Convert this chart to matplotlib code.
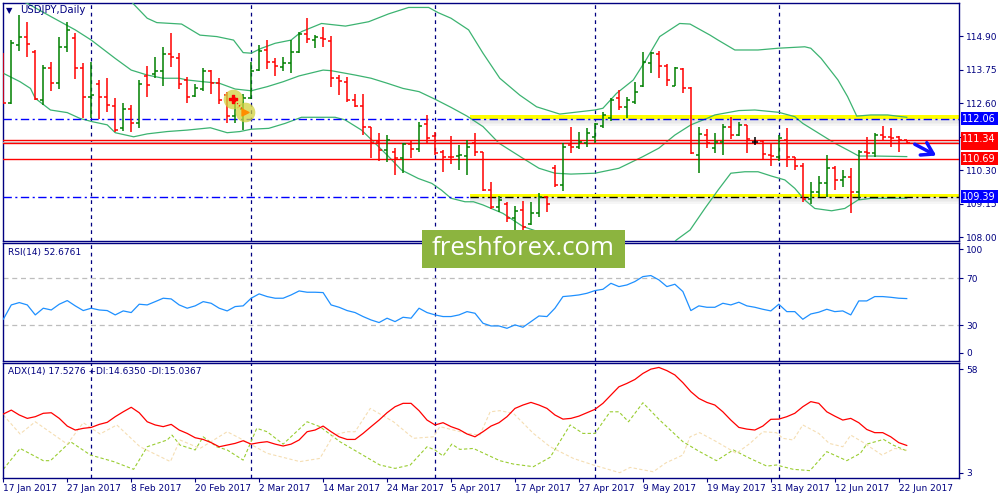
import numpy as np
import matplotlib
matplotlib.use("Agg")
import matplotlib.pyplot as plt
from matplotlib.patches import Rectangle
import matplotlib.transforms as mtransforms

# USDJPY daily bars, 17 Jan 2017 .. 23 Jun 2017
opens = [114.20, 112.60, 114.59, 114.88, 114.36, 112.70, 113.79, 113.28, 114.53, 114.82,
         113.79, 112.82, 113.24, 112.82, 112.51, 111.73, 112.38, 111.90, 113.53, 113.60,
         113.71, 114.27, 114.13, 113.39, 112.84, 113.07, 113.69, 113.30, 112.87, 112.15,
         112.40, 112.78, 113.73, 114.42, 114.02, 113.85, 113.96, 114.36, 114.96, 114.76,
         114.84, 114.74, 113.45, 113.33, 112.70, 112.50, 111.77, 111.27, 110.99, 110.93,
         110.70, 111.19, 111.01, 111.88, 111.47, 110.93, 110.76, 110.78, 110.78, 111.22,
         110.91, 109.61, 109.04, 109.13, 108.64, 108.93, 108.45, 108.81, 109.39, 110.36,
         109.79, 111.16, 111.10, 111.24, 111.45, 111.81, 112.07, 112.76, 112.45, 112.65,
         113.18, 113.96, 114.28, 113.87, 113.20, 113.76, 113.10, 110.82, 111.50, 111.04,
         111.27, 111.79, 111.50, 111.83, 111.27, 111.30, 110.82, 110.76, 111.33, 110.74,
         110.45, 109.29, 109.56, 109.84, 110.36, 109.96, 110.07, 109.56, 110.93, 110.90,
         111.50, 111.42, 111.42, 111.33]
highs = [114.31, 114.76, 115.62, 115.39, 114.42, 113.90, 114.02, 114.88, 115.39, 114.99,
         113.98, 114.02, 113.39, 113.45, 112.76, 112.59, 112.53, 113.39, 113.87, 114.19,
         114.52, 114.99, 114.31, 113.48, 113.25, 113.79, 113.73, 113.45, 112.99, 112.82,
         112.90, 114.02, 114.59, 114.76, 114.13, 114.17, 114.76, 115.05, 115.51, 114.93,
         115.22, 114.90, 113.56, 113.48, 112.90, 112.90, 111.79, 111.56, 111.50, 111.04,
         111.22, 111.33, 111.96, 112.19, 111.62, 110.99, 111.47, 111.16, 111.33, 111.56,
         110.93, 109.90, 109.41, 109.21, 109.06, 109.24, 109.21, 109.52, 109.41, 110.47,
         111.22, 111.79, 111.59, 111.73, 111.93, 112.30, 112.76, 113.05, 112.82, 113.33,
         114.36, 114.36, 114.39, 113.93, 113.85, 113.79, 113.14, 111.79, 111.70, 111.56,
         111.88, 112.11, 111.94, 111.85, 111.44, 111.33, 111.22, 111.50, 111.73, 110.76,
         110.53, 109.90, 110.09, 110.82, 110.45, 110.30, 110.36, 110.99, 111.44, 111.58,
         111.81, 111.75, 111.47, 111.33]
lows = [112.59, 112.56, 114.40, 114.19, 112.70, 112.53, 113.02, 113.07, 114.36, 113.41,
        112.07, 112.07, 112.04, 112.30, 111.62, 111.65, 111.62, 111.73, 112.82, 113.45,
        113.20, 113.85, 113.07, 112.61, 112.79, 113.02, 112.90, 112.55, 111.93, 111.90,
        111.67, 112.75, 113.70, 113.77, 113.54, 113.71, 113.62, 114.31, 114.65, 114.48,
        114.51, 113.16, 112.87, 112.65, 112.47, 111.50, 110.70, 110.62, 110.58, 110.13,
        110.19, 110.70, 110.93, 111.22, 110.82, 110.24, 110.51, 110.30, 110.13, 110.78,
        109.59, 108.95, 108.87, 108.53, 108.24, 108.13, 108.41, 108.70, 108.87, 109.71,
        109.59, 110.87, 111.02, 111.10, 111.22, 111.73, 111.99, 112.36, 112.07, 112.57,
        113.14, 113.62, 113.45, 113.18, 113.18, 112.93, 110.85, 110.21, 111.04, 110.90,
        110.82, 111.35, 111.48, 110.87, 111.16, 110.66, 110.44, 110.62, 110.41, 110.30,
        109.21, 109.13, 109.39, 109.39, 109.61, 109.73, 108.81, 109.27, 110.64, 110.73,
        111.33, 111.08, 110.93, 111.21]
closes = [112.61, 114.65, 114.88, 114.63, 112.73, 113.79, 113.28, 114.53, 115.10, 113.79,
          112.82, 112.88, 112.80, 112.53, 111.67, 112.38, 111.93, 113.25, 113.22, 113.71,
          114.27, 114.17, 113.24, 112.79, 113.10, 113.70, 113.30, 112.70, 112.15, 112.70,
          112.76, 113.71, 114.40, 114.02, 113.88, 113.96, 114.34, 114.97, 114.79, 114.85,
          114.79, 113.47, 113.36, 112.70, 112.50, 111.77, 111.24, 110.99, 111.33, 110.70,
          111.19, 111.01, 111.81, 111.39, 110.87, 110.76, 110.73, 110.82, 111.10, 110.93,
          109.61, 109.02, 109.27, 108.64, 108.90, 108.36, 108.84, 109.39, 109.13, 109.79,
          111.10, 111.08, 111.27, 111.56, 111.88, 112.19, 112.70, 112.45, 112.70, 112.99,
          114.02, 114.31, 113.88, 113.39, 113.79, 113.10, 110.87, 111.53, 111.22, 111.27,
          111.79, 111.50, 111.85, 111.35, 111.27, 110.85, 110.79, 111.39, 110.76, 110.45,
          109.29, 109.56, 109.84, 110.36, 109.96, 110.07, 109.56, 110.93, 110.90, 111.50,
          111.44, 111.39, 111.33, 111.24]

# Bollinger bands (bar position, price)
upper_x = [0, 5, 10, 14, 16, 18, 19.2, 22.3, 24.6, 26.7, 28.8, 30, 31, 32.3, 34, 36, 37.3, 39.8,
           42.8, 45.7, 48.2, 50.7, 53.2, 54.4, 56, 58.2, 60, 62.1, 64.6, 66.7, 69.6, 72.1, 74, 75,
           76.7, 78.8, 80.5, 82.1, 84.6, 85.9, 88.4, 89.4, 91.5, 94.4, 96.9, 100.25, 101, 102.3,
           104.4, 105.6, 106.75, 108.5, 110.6, 113]
upper_v = [118.6, 118.0, 117.2, 116.5, 116.08, 115.51, 115.36, 115.31, 114.93, 114.88, 114.76,
           114.33, 114.31, 114.48, 114.65, 114.76, 115.05, 115.33, 115.24, 115.39, 115.66, 115.88,
           115.88, 115.70, 115.51, 115.11, 114.31, 113.45, 112.87, 112.47, 112.22, 112.30, 112.36,
           112.42, 112.93, 113.39, 114.13, 114.88, 115.33, 115.31, 114.93, 114.76, 114.42, 114.42,
           114.48, 114.53, 114.48, 114.13, 113.39, 112.82, 112.15, 112.19, 112.19, 112.11]
mid_x = [0, 1, 3, 6, 9, 11, 14, 16, 18, 20, 22, 23, 25, 27, 29, 31, 33, 35, 37, 40, 41, 44, 46,
         48, 50, 52, 54, 56, 58, 60, 62, 65, 67, 69, 71, 74, 77, 80, 82, 84, 86, 88, 89, 92, 94,
         97, 99, 100, 102, 104, 106, 107, 109, 113]
mid_v = [116.30, 116.22, 116.02, 115.56, 115.11, 114.76, 114.13, 113.73, 113.56, 113.45, 113.45,
         113.39, 113.33, 113.28, 113.08, 113.02, 113.16, 113.33, 113.53, 113.73, 113.71, 113.56,
         113.45, 113.28, 113.10, 112.99, 112.73, 112.45, 112.15, 111.79, 111.22, 110.70, 110.36,
         110.19, 110.16, 110.19, 110.36, 110.76, 111.05, 111.50, 111.85, 112.07, 112.19, 112.34,
         112.36, 112.28, 112.13, 111.90, 111.56, 111.22, 110.93, 110.78, 110.78, 110.76]
lower_x = [0, 2.1, 3.4, 4, 5.9, 8, 9.6, 11.1, 13, 14, 16.3, 18, 20.5, 23, 25.9, 28, 29.6, 31, 33.2,
           35.25, 37.3, 39.8, 41.5, 42.75, 44.8, 46.5, 48.2, 49.8, 51.9, 53.6, 54.8, 56, 57.75,
           58.8, 60, 62.5, 65, 66.7, 68, 70, 73, 76, 78, 80, 82, 84.2, 85.9, 87.75, 89.4, 91,
           92.75, 94.4, 96.1, 97.75, 99, 100.25, 101.5, 103.6, 105.25, 106.9, 108.6, 113]
lower_v = [113.62, 113.33, 113.10, 112.76, 112.36, 112.27, 112.07, 111.96, 111.85, 111.58, 111.44,
           111.54, 111.62, 111.67, 111.75, 111.58, 111.62, 111.70, 111.73, 111.90, 112.11, 112.11,
           112.11, 112.02, 111.67, 111.22, 110.76, 110.30, 110.01, 109.84, 109.61, 109.33, 109.21,
           109.21, 109.10, 108.81, 108.36, 108.20, 108.15, 108.10, 108.05, 107.95, 107.70, 107.50,
           107.30, 107.90, 108.24, 108.98, 109.61, 110.19, 110.24, 110.24, 110.09, 109.96, 109.67,
           109.27, 108.98, 108.90, 108.98, 109.27, 109.33, 109.33]

rsi = [35.1, 47.3, 49.3, 47.3, 38.8, 44.5, 43.0, 47.9, 51.0, 46.5, 42.5, 44.5, 43.0, 42.5, 38.8,
       42.2, 40.8, 47.9, 47.3, 50.1, 53.0, 52.4, 47.3, 44.5, 46.5, 50.1, 48.7, 44.5, 42.2, 45.9,
       46.5, 53.0, 56.7, 54.4, 53.0, 53.0, 55.8, 59.2, 58.1, 58.1, 57.8, 47.3, 45.3, 42.5, 40.8,
       37.4, 34.5, 32.3, 36.0, 33.1, 36.8, 36.0, 44.5, 40.8, 38.8, 37.4, 37.4, 38.8, 41.6, 40.2,
       31.7, 29.4, 29.4, 27.4, 30.3, 28.3, 33.1, 37.9, 37.4, 44.5, 54.4, 55.0, 55.8, 57.2, 59.5,
       60.6, 65.7, 62.9, 64.3, 67.2, 71.4, 72.3, 68.6, 62.9, 64.9, 58.7, 42.5, 46.5, 45.3, 45.3,
       48.7, 47.3, 49.6, 46.5, 45.3, 43.6, 42.2, 47.9, 41.6, 41.6, 35.1, 39.6, 41.1, 43.6, 41.6,
       42.2, 38.8, 50.7, 50.7, 54.4, 54.4, 53.8, 53.0, 52.7]

adx = [34.2, 36.3, 33.7, 31.9, 32.8, 34.6, 34.9, 31.9, 27.8, 25.7, 26.6, 27.1, 28.7, 29.8, 32.8,
       35.4, 37.8, 34.9, 30.1, 28.4, 27.5, 28.7, 25.7, 23.9, 21.6, 20.7, 19.0, 16.8, 17.7, 18.6,
       20.0, 18.2, 19.0, 19.5, 18.2, 17.2, 18.2, 20.4, 24.8, 25.7, 27.8, 24.8, 22.1, 20.7, 20.7,
       23.9, 27.5, 31.0, 34.9, 38.1, 39.9, 39.9, 36.0, 31.0, 28.4, 29.6, 27.5, 26.0, 23.6, 22.1,
       24.8, 27.8, 29.6, 32.8, 37.2, 39.0, 40.4, 39.0, 37.2, 33.7, 31.5, 31.9, 33.1, 34.9, 36.7,
       39.9, 44.3, 48.7, 50.5, 52.6, 55.8, 58.1, 59.0, 57.3, 55.0, 50.9, 46.1, 42.5, 40.4, 39.0,
       35.4, 31.0, 27.1, 26.2, 25.7, 27.8, 31.4, 31.5, 32.8, 34.6, 38.1, 40.8, 39.9, 35.4, 33.1,
       31.0, 31.9, 29.6, 26.0, 24.3, 24.3, 22.1, 19.0, 17.5]
pdi_x = [0, 2.1, 5.0, 5.9, 8.4, 10.9, 13.8, 16.3, 18.0, 20.5, 21.1, 22.1, 24.0, 25.0, 26.7, 28.0,
         30.0, 31.7, 33.0, 35.0, 38.0, 39.6, 42.1, 44.6, 47.1, 49.0, 50.9, 53.0, 54.0, 55.0, 56.1,
         57.1, 58.8, 62.1, 63.8, 66.3, 68.4, 70.9, 72.5, 74.0, 75.9, 77.0, 78.2, 80.0, 82.1, 85.0,
         87.1, 89.2, 91.3, 93.4, 95.5, 96.7, 98.8, 100.9, 103.0, 105.5, 107.2, 108.0, 110.1,
         111.3, 113.0]
pdi_v = [4.8, 15.9, 9.4, 9.4, 19.5, 12.4, 8.9, 4.8, 16.8, 20.4, 23.0, 17.7, 15.1, 22.1, 16.8, 15.1,
         9.7, 26.6, 24.8, 18.2, 30.1, 27.5, 19.5, 13.3, 7.1, 5.3, 7.1, 16.8, 15.1, 11.9, 18.2, 15.4,
         15.9, 9.4, 7.6, 6.2, 11.2, 28.4, 23.9, 23.9, 35.4, 35.4, 30.1, 40.2, 31.0, 19.5, 14.2, 9.4,
         15.1, 10.6, 6.5, 7.1, 4.8, 4.1, 14.2, 9.4, 13.3, 18.2, 20.7, 17.7, 14.6]
mdi_x = [0, 2.1, 4.0, 8.0, 10.0, 12.1, 14.2, 17.1, 20.9, 22.1, 24.6, 28.0, 29.6, 33.0, 37.1, 39.6,
         41.3, 43.0, 44.0, 45.9, 48.8, 51.3, 53.8, 54.6, 58.0, 59.6, 60.9, 62.1, 63.8, 66.3, 68.4,
         71.3, 73.8, 77.1, 78.4, 81.3, 82.9, 85.0, 85.9, 87.1, 89.2, 91.7, 93.4, 95.0, 96.7, 97.5,
         98.8, 100.0, 102.0, 103.3, 105.0, 106.0, 107.4, 109.9, 111.5, 113.0]
mdi_v = [33.7, 23.6, 30.1, 18.2, 29.6, 23.6, 28.4, 16.8, 8.9, 20.4, 15.9, 24.8, 21.3, 13.3, 8.9,
         10.6, 23.0, 24.8, 24.8, 37.2, 30.1, 21.3, 22.1, 27.5, 23.9, 23.0, 35.4, 36.0, 34.6, 23.9,
         16.8, 10.6, 7.1, 3.0, 5.8, 3.5, 8.3, 12.4, 22.1, 24.3, 19.5, 13.3, 18.6, 24.8, 24.3, 21.3,
         20.4, 28.4, 23.9, 18.6, 16.8, 23.0, 19.5, 12.4, 15.9, 15.0]

date_ticks = [0, 8, 16, 24, 32, 40, 48, 56, 64, 72, 80, 88, 96, 104, 112]
date_labels = ['17 Jan 2017', '27 Jan 2017', '8 Feb 2017', '20 Feb 2017', '2 Mar 2017',
               '14 Mar 2017', '24 Mar 2017', '5 Apr 2017', '17 Apr 2017', '27 Apr 2017',
               '9 May 2017', '19 May 2017', '31 May 2017', '12 Jun 2017', '22 Jun 2017']
month_starts = [11, 31, 54, 74, 97]
price_ticks = [114.90, 113.75, 112.60, 111.45, 110.30, 109.15, 108.00]

navy = '#000080'
fs = 6.5

fig = plt.figure(figsize=(10, 5), dpi=100)
ax1 = fig.add_axes([0.0025, 0.519, 0.957, 0.476])
ax2 = fig.add_axes([0.0025, 0.279, 0.957, 0.235])
ax3 = fig.add_axes([0.0025, 0.044, 0.957, 0.23])

for ax in (ax1, ax2, ax3):
    ax.set_xlim(-0.1, 119.6)
    for s in ax.spines.values():
        s.set_color(navy)
        s.set_linewidth(1.0)
    ax.yaxis.tick_right()
    ax.tick_params(axis='y', colors=navy, labelcolor=navy, labelsize=fs, length=3, width=0.8, pad=2)
    for m in month_starts:
        ax.axvline(m, color=navy, lw=0.9, ls=(0, (3, 3)), zorder=1)

ax1.set_ylim(107.88, 116.05)
ax2.set_ylim(0, 100)
ax3.set_ylim(0.18, 61.36)
for ax in (ax1, ax2):
    ax.set_xticks([])

# --- price panel ---
idx = np.arange(len(opens))
o = np.array(opens); h = np.array(highs); l = np.array(lows); c = np.array(closes)
cols = np.where(c > o, '#008000', np.where(c < o, '#ff0000', '#000000'))
ax1.vlines(idx, l, h, colors=cols, lw=1.1, zorder=4)
ax1.hlines(o, idx - 0.4, idx, colors=cols, lw=1.1, zorder=4)
ax1.hlines(c, idx, idx + 0.4, colors=cols, lw=1.1, zorder=4)

bb = '#3cb371'
ax1.plot(upper_x, upper_v, color=bb, lw=0.9, zorder=3)
ax1.plot(mid_x, mid_v, color=bb, lw=0.9, zorder=3)
ax1.plot(lower_x, lower_v, color=bb, lw=0.9, zorder=3)

# highlighted levels
x_band = [58.4, 119.6]
for top, bot in [(112.19, 112.05), (109.49, 109.37)]:
    ax1.fill_between(x_band, bot, top, color='#ffff00', lw=0, zorder=2)
    for k in range(4):
        ax1.fill_between(x_band, bot - 0.06 * (k + 1), bot - 0.06 * k, color='#808080',
                         alpha=0.22 - 0.05 * k, lw=0, zorder=2)

dashdot = (0, (6, 2.5, 1.5, 2.5))
ax1.axhline(112.06, color='#0000ff', lw=1, ls=dashdot, zorder=3)
ax1.plot([-0.1, 58.4], [109.39, 109.39], color='#0000ff', lw=1, ls=dashdot, zorder=3)
ax1.plot([58.4, 119.6], [109.39, 109.39], color='#000000', lw=1, ls=dashdot, zorder=3)
ax1.axhline(111.34, color='#ff0000', lw=1, zorder=3)
ax1.axhline(111.25, color='#c0c0c0', lw=1, zorder=3)
ax1.axhline(111.21, color='#ff0000', lw=1, zorder=3)
ax1.axhline(110.69, color='#ff0000', lw=1, zorder=3)

ax1.set_yticks(price_ticks)
ax1.set_yticklabels(['%.2f' % p for p in price_ticks])

trans = mtransforms.blended_transform_factory(ax1.transAxes, ax1.transData)
for val, txt, fc in [(111.23, '111.21', '#ff0000'), (112.06, '112.06', '#0000ff'),
                     (111.36, '111.34', '#ff0000'), (110.69, '110.69', '#ff0000'),
                     (109.39, '109.39', '#0000ff')]:
    ax1.text(1.003, val, txt, transform=trans,
             ha='left', va='center', color='white', fontsize=7, clip_on=False, zorder=10,
             bbox=dict(boxstyle='square,pad=0.18', fc=fc, ec='none'))

# trade markers
ax1.scatter([28.75, 30.25], [112.74, 112.29], s=200, color='#d2d23c', alpha=0.75, lw=0, zorder=6)
ax1.plot([28.75, 30.25], [112.74, 112.29], color='#ff0000', lw=0.8, ls=':', zorder=7)
ax1.scatter([28.75], [112.74], marker='P', s=35, color='#ff0000', zorder=8)
ax1.scatter([30.25], [112.29], marker='>', s=25, color='#ff8c00', zorder=8)

ax1.annotate('', xy=(117.0, 110.75), xytext=(113.7, 111.23),
             arrowprops=dict(arrowstyle='->,head_length=0.8,head_width=0.5',
                             color='#1010ff', lw=2.5), zorder=9)

ax1.text(0.004, 0.968, '\u25bc', transform=ax1.transAxes, color=navy, fontsize=6, va='center')
ax1.text(0.018, 0.968, 'USDJPY,Daily', transform=ax1.transAxes, color=navy, fontsize=7.3,
         va='center')

# --- RSI panel ---
ax2.plot(idx, rsi, color='#1e90ff', lw=0.9, zorder=3)
ax2.axhline(70, color='#bdbdbd', lw=0.9, ls=(0, (4, 3)), zorder=2)
ax2.axhline(30, color='#bdbdbd', lw=0.9, ls=(0, (4, 3)), zorder=2)
ax2.set_yticks([94.5, 70, 30, 6.5])
ax2.set_yticklabels(['100', '70', '30', '0'])
ax2.text(0.006, 0.923, 'RSI(14) 52.6761', transform=ax2.transAxes, color=navy, fontsize=fs,
         va='center')

# --- ADX panel ---
ax3.plot(pdi_x, pdi_v, color='#9acd32', lw=0.8, ls=(0, (3, 2)), zorder=2)
ax3.plot(mdi_x, mdi_v, color='#f5deb3', lw=0.8, ls=(0, (3, 2)), zorder=2)
ax3.plot(idx, adx, color='#ff0000', lw=0.9, zorder=3)
ax3.set_yticks([58, 3])
ax3.set_yticklabels(['58', '3'])
ax3.text(0.006, 0.926, 'ADX(14) 17.5276 +DI:14.6350 -DI:15.0367', transform=ax3.transAxes,
         color=navy, fontsize=fs, va='center')
ax3.set_xticks(date_ticks)
ax3.set_xticklabels(date_labels, ha='left')
ax3.tick_params(axis='x', colors=navy, labelcolor=navy, labelsize=fs, length=3, width=0.8, pad=1.5)

# watermark
fig.add_artist(Rectangle((0.422, 0.464), 0.203, 0.076, transform=fig.transFigure,
                         fc='#8cb43f', ec='none', zorder=20))
fig.text(0.5235, 0.503, 'freshforex.com', color='white', fontsize=18.5, family='Open Sans',
         ha='center', va='center', zorder=21)

fig.savefig('out.png', dpi=100)
